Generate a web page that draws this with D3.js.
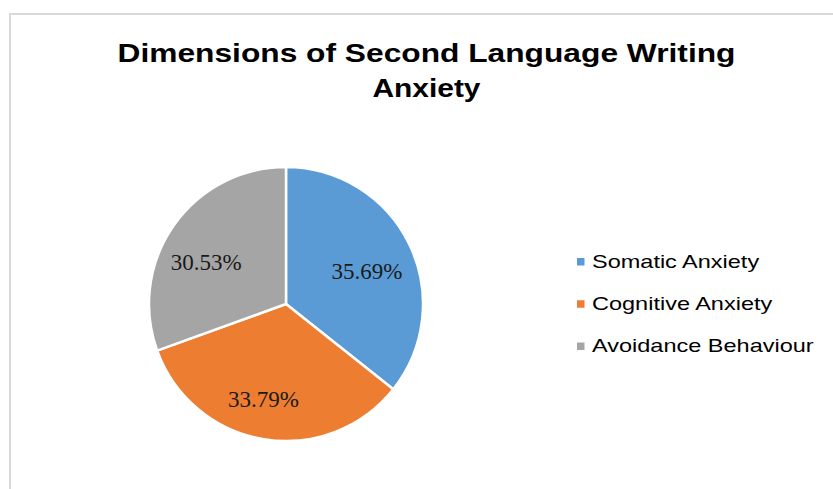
<!DOCTYPE html>
<html>
<head>
<meta charset="utf-8">
<script src="https://cdn.jsdelivr.net/npm/d3@7"></script>
<style>
  html, body { margin: 0; padding: 0; background: #fff; }
  svg { display: block; }
</style>
</head>
<body>
<svg id="chart" width="833" height="489"></svg>
<script>
// ---- data ----
const categories = ["Somatic Anxiety", "Cognitive Anxiety", "Avoidance Behaviour"];
const values = [35.69, 33.79, 30.53];
const valueLabels = ["35.69%", "33.79%", "30.53%"];
const titleLines = ["Dimensions of Second Language Writing", "Anxiety"];

// ---- style ----
const colors = ["#5b9bd5", "#ed7d31", "#a5a5a5"];
const W = 833, H = 489;
const cx = 286, cy = 304, radius = 137, labelRadius = 90;

const svg = d3.select("#chart");

// outer chart border (only top/left visible)
svg.append("rect")
  .attr("x", 10).attr("y", 14)
  .attr("width", W + 20).attr("height", H + 20)
  .attr("fill", "#fff")
  .attr("stroke", "#d9d9d9").attr("stroke-width", 2);

// title
const titleG = svg.append("g");
const titleBase = [62, 96.5];
const titleStretch = [1.22, 1.15];
titleLines.forEach((t, i) => {
  const el = titleG.append("text")
    .attr("x", 426.5).attr("y", titleBase[i])
    .attr("text-anchor", "middle")
    .attr("font-family", "Liberation Sans, Arial, sans-serif")
    .attr("font-weight", "bold")
    .attr("font-size", 26)
    .attr("fill", "#000")
    .text(t);
  const len = el.node().getComputedTextLength();
  el.attr("textLength", len * titleStretch[i]).attr("lengthAdjust", "spacingAndGlyphs");
});

// pie
const pie = d3.pie().sort(null).value(d => d)
  .startAngle(0).endAngle(2 * Math.PI);
const arcs = pie(values);
const arc = d3.arc().innerRadius(0).outerRadius(radius);
const labelArc = d3.arc().innerRadius(labelRadius).outerRadius(labelRadius);

const g = svg.append("g").attr("transform", `translate(${cx},${cy})`);
g.selectAll("path.slice")
  .data(arcs)
  .join("path")
  .attr("class", "slice")
  .attr("d", arc)
  .attr("fill", (d, i) => colors[i])
  .attr("stroke", "#fff")
  .attr("stroke-width", 2.5)
  .attr("stroke-linejoin", "round");

const labelNudge = [[0, 6], [-8, 6], [-6, 10]];
g.selectAll("text.lbl")
  .data(arcs)
  .join("text")
  .attr("class", "lbl")
  .attr("transform", (d, i) => {
    const c = labelArc.centroid(d);
    return `translate(${c[0] + labelNudge[i][0]},${c[1] + labelNudge[i][1]})`;
  })
  .attr("text-anchor", "middle")
  .attr("dy", "0.35em")
  .attr("font-family", "Liberation Serif, Times New Roman, serif")
  .attr("font-size", 23)
  .attr("fill", "#1a1a1a")
  .text((d, i) => valueLabels[i]);

// legend
const legend = svg.append("g");
const legendY = d3.scalePoint().domain(categories).range([267.5, 352]);
const legendStretch = 1.27;
categories.forEach((c, i) => {
  const y = legendY(c);
  legend.append("rect")
    .attr("x", 577).attr("y", y - 9.5)
    .attr("width", 7.5).attr("height", 7.5)
    .attr("fill", colors[i]);
  const el = legend.append("text")
    .attr("x", 592).attr("y", y)
    .attr("font-family", "Liberation Sans, Arial, sans-serif")
    .attr("font-size", 18.5)
    .attr("fill", "#000")
    .text(c);
  const len = el.node().getComputedTextLength();
  el.attr("textLength", len * legendStretch).attr("lengthAdjust", "spacingAndGlyphs");
});
</script>
</body>
</html>
